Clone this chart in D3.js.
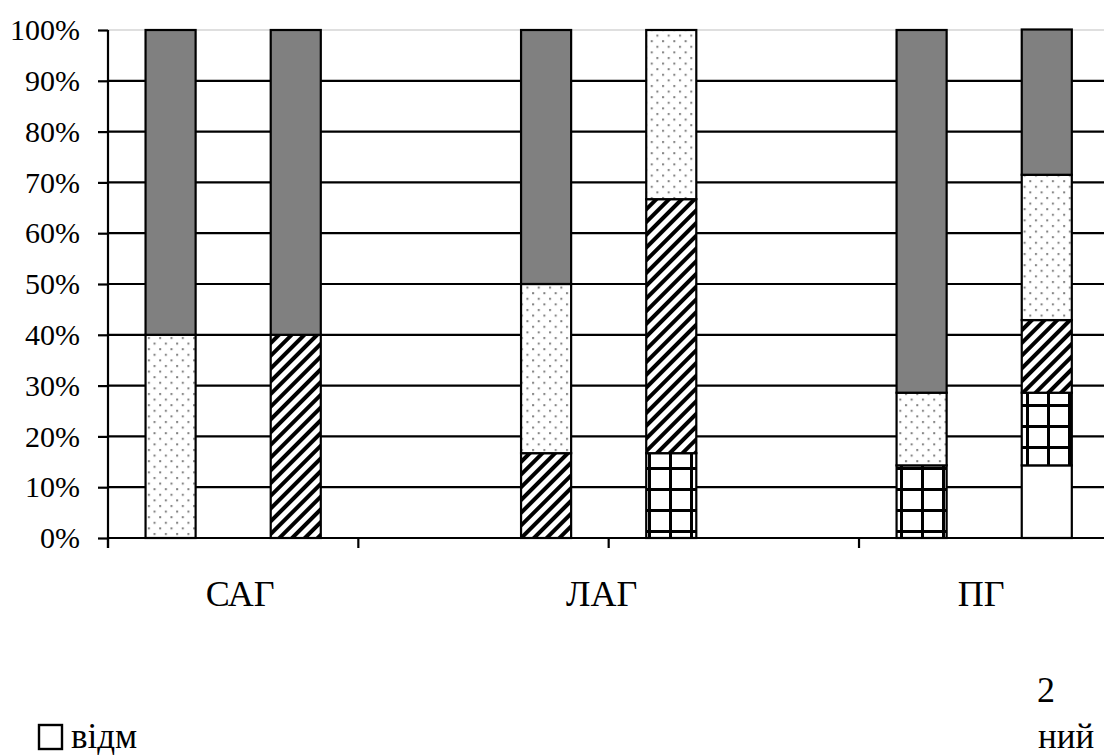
<!DOCTYPE html>
<html>
<head>
<meta charset="utf-8">
<script src="https://cdn.jsdelivr.net/npm/d3@7"></script>
<style>
  html, body { margin: 0; padding: 0; background: #fff; }
  svg { display: block; }
  text { font-family: "Liberation Serif", "Times New Roman", serif; fill: #000; }
  .ytick text { font-size: 30px; }
</style>
</head>
<body>
<svg id="chart" width="1104" height="756"></svg>
<script>
// Groups and the two bars shown for each group
const groups = ["САГ", "ЛАГ", "ПГ"];
const barsPerGroup = 2;

// Share of each level, per bar (САГ a, САГ b, ЛАГ a, ЛАГ b, ПГ a, ПГ b), in %
const levelWhite = [0, 0, 0, 0, 0, 14.3];
const levelGrid  = [0, 0, 0, 16.7, 14.3, 14.3];
const levelHatch = [0, 40, 16.7, 50, 0, 14.3];
const levelDots  = [40, 0, 33.3, 33.3, 14.3, 28.6];
const levelGray  = [60, 60, 50, 0, 71.4, 28.6];

const yTicks = [0, 10, 20, 30, 40, 50, 60, 70, 80, 90, 100];
const yTickLabels = ["0%", "10%", "20%", "30%", "40%", "50%", "60%", "70%", "80%", "90%", "100%"];

const legendFirst = "відм";
const legendRightTop = "2";
const legendRightBottom = "ний";

const svg = d3.select("#chart");
const defs = svg.append("defs");

// Fill patterns
const dots = defs.append("pattern").attr("id", "pDots")
  .attr("patternUnits", "userSpaceOnUse").attr("width", 11.3).attr("height", 11.2);
dots.append("rect").attr("width", 11.3).attr("height", 11.2).attr("fill", "#fff");
dots.append("rect").attr("x", 1).attr("y", 1).attr("width", 2).attr("height", 2).attr("fill", "#808080");
dots.append("rect").attr("x", 6.65).attr("y", 6.6).attr("width", 2).attr("height", 2).attr("fill", "#808080");

const hatch = defs.append("pattern").attr("id", "pHatch")
  .attr("patternUnits", "userSpaceOnUse").attr("width", 9).attr("height", 9)
  .attr("patternTransform", "rotate(45)");
hatch.append("rect").attr("width", 9).attr("height", 9).attr("fill", "#fff");
hatch.append("rect").attr("width", 4).attr("height", 9).attr("fill", "#000")
  .attr("shape-rendering", "crispEdges");

const grid = defs.append("pattern").attr("id", "pGrid")
  .attr("patternUnits", "userSpaceOnUse").attr("width", 21).attr("height", 21);
grid.append("rect").attr("width", 21).attr("height", 21).attr("fill", "#fff");
grid.append("rect").attr("x", 18).attr("y", 0).attr("width", 3).attr("height", 21).attr("fill", "#000");
grid.append("rect").attr("x", 0).attr("y", 5).attr("width", 21).attr("height", 3).attr("fill", "#000");

const series = [
  { key: "white", values: levelWhite, fill: "#ffffff" },
  { key: "grid",  values: levelGrid,  fill: "url(#pGrid)" },
  { key: "hatch", values: levelHatch, fill: "url(#pHatch)" },
  { key: "dots",  values: levelDots,  fill: "url(#pDots)" },
  { key: "gray",  values: levelGray,  fill: "#808080" }
];

// Layout
const plotLeft = 108, plotTop = 30, plotBottom = 538;
const slotsPerGroup = 3; // two bars and a gap
const slotCount = groups.length * slotsPerGroup;
const slotStep = 125.17;

const slotIds = d3.range(slotCount);
const x = d3.scaleBand()
  .domain(slotIds)
  .range([plotLeft, plotLeft + slotCount * slotStep])
  .paddingInner(0.6)
  .paddingOuter(0.3);

const y = d3.scaleLinear().domain([0, 100]).range([plotBottom, plotTop]);

const barSlot = i => Math.floor(i / barsPerGroup) * slotsPerGroup + (i % barsPerGroup);

// Gridlines
svg.append("g").selectAll("line")
  .data(yTicks.filter(t => t > 0))
  .join("line")
  .attr("x1", plotLeft).attr("x2", 1104)
  .attr("y1", d => y(d)).attr("y2", d => y(d))
  .attr("stroke", d => d === 100 ? "#c0c0c0" : "#000")
  .attr("stroke-width", d => d === 100 ? 1.2 : 2.2);

// Stacked bars
const table = levelWhite.map((_, i) => {
  const row = { i };
  series.forEach(s => { row[s.key] = s.values[i]; });
  return row;
});
const stacked = d3.stack().keys(series.map(s => s.key))(table);

const barLayer = svg.append("g");
stacked.forEach((layer, k) => {
  barLayer.append("g")
    .selectAll("rect")
    .data(layer.filter(d => d[1] - d[0] > 0))
    .join("rect")
    .attr("x", d => x(barSlot(d.data.i)))
    .attr("width", x.bandwidth())
    .attr("y", d => y(d[1]))
    .attr("height", d => y(d[0]) - y(d[1]))
    .attr("fill", series[k].fill)
    .attr("stroke", "#000")
    .attr("stroke-width", 2.2);
});

// Y axis
const yAxis = d3.axisLeft(y)
  .tickValues(yTicks)
  .tickFormat((d, i) => yTickLabels[i])
  .tickSize(10)
  .tickPadding(18);
const yg = svg.append("g")
  .attr("class", "ytick")
  .attr("transform", `translate(${plotLeft},0)`)
  .call(yAxis)
  .attr("font-family", null)
  .attr("font-size", null);
yg.select(".domain").remove();
yg.selectAll(".tick line").attr("stroke", "#000").attr("stroke-width", 2.2);
yg.selectAll(".tick text").attr("fill", "#000");
svg.append("line")
  .attr("x1", plotLeft).attr("x2", plotLeft)
  .attr("y1", plotTop).attr("y2", plotBottom + 10)
  .attr("stroke", "#000").attr("stroke-width", 2.2);

// X axis line and tick marks every two slots
svg.append("line")
  .attr("x1", plotLeft).attr("x2", 1104)
  .attr("y1", plotBottom).attr("y2", plotBottom)
  .attr("stroke", "#000").attr("stroke-width", 2.2);
const step = x.step();
svg.append("g").selectAll("line")
  .data(d3.range(0, slotCount + 1, 2))
  .join("line")
  .attr("x1", d => plotLeft + d * step).attr("x2", d => plotLeft + d * step)
  .attr("y1", plotBottom).attr("y2", plotBottom + 10)
  .attr("stroke", "#000").attr("stroke-width", 2.2);

// Group labels under each pair of bars
const labelNudge = [7, -7, -3];
svg.append("g").selectAll("text")
  .data(groups)
  .join("text")
  .attr("x", (d, g) => {
    const a = x(g * slotsPerGroup), b = x(g * slotsPerGroup + 1) + x.bandwidth();
    return (a + b) / 2 + labelNudge[g];
  })
  .attr("y", 606)
  .attr("text-anchor", "middle")
  .style("font-size", "36px")
  .text(d => d);

// Legend fragments
svg.append("rect")
  .attr("x", 39).attr("y", 725).attr("width", 23).attr("height", 24)
  .attr("fill", "#fff").attr("stroke", "#000").attr("stroke-width", 2.4);
svg.append("text")
  .attr("x", 71).attr("y", 748)
  .style("font-size", "35px")
  .text(legendFirst);
svg.append("text")
  .attr("x", 1037).attr("y", 702)
  .style("font-size", "36px")
  .text(legendRightTop);
svg.append("text")
  .attr("x", 1038).attr("y", 748)
  .style("font-size", "35px")
  .text(legendRightBottom);
</script>
</body>
</html>
